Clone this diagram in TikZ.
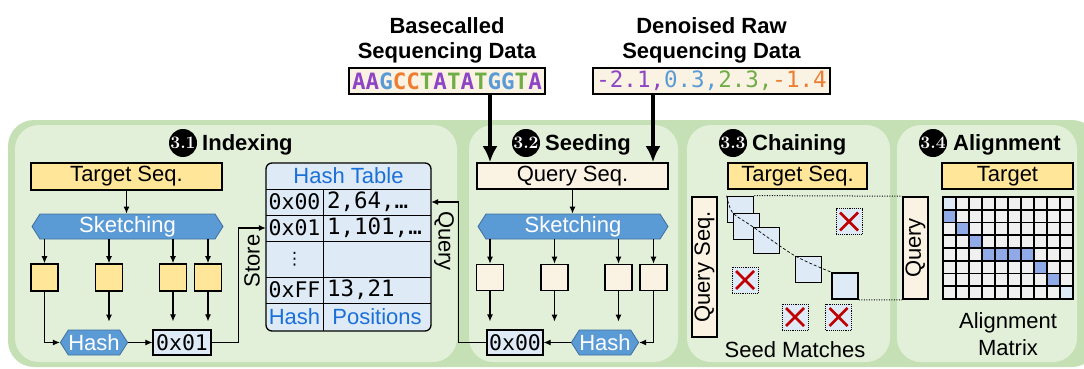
\documentclass[tikz,border=0pt]{standalone}
\usepackage{fontspec}
\setmainfont{Liberation Sans}
\newfontfamily\monofont{DejaVu Sans Mono}
\newfontfamily\numfont{Latin Modern Roman}
\newfontfamily\symfont{DejaVu Sans}
\usetikzlibrary{arrows.meta,shapes.symbols}

\definecolor{frame}{HTML}{C5E0B4}
\definecolor{panelbg}{HTML}{E2F0D9}
\definecolor{ylw}{HTML}{FFE699}
\definecolor{cream}{HTML}{FAF3E3}
\definecolor{lblue}{HTML}{DEEBF7}
\definecolor{hexblue}{HTML}{5B9BD5}
\definecolor{hexedge}{HTML}{3E6E9E}
\definecolor{tblue}{HTML}{1A6FD8}
\definecolor{cellblue}{HTML}{8FAAE6}
\definecolor{cellgray}{HTML}{F0F0F0}
\definecolor{xred}{HTML}{C00000}
\definecolor{bA}{HTML}{8E44C4}
\definecolor{bG}{HTML}{5B9BD5}
\definecolor{bC}{HTML}{ED7D31}
\definecolor{bT}{HTML}{70AD47}

\newcommand{\sansfs}{\fontsize{22}{25}\selectfont}
\newcommand{\monofs}{\monofont\fontsize{22.5}{25}\selectfont}
\newcommand{\keyfs}{\monofont\fontsize{21.5}{25}\selectfont}

\tikzset{
  panel/.style={fill=panelbg, rounded corners=24pt, inner sep=0pt},
  box/.style={draw=black, line width=1.6pt, inner sep=0pt, font=\sansfs},
  ybox/.style={box, fill=ylw},
  cbox/.style={box, fill=cream},
  sqy/.style={ybox, minimum width=27pt, minimum height=27pt},
  sqc/.style={cbox, minimum width=27pt, minimum height=26pt},
  hexa/.style={shape=signal, signal to=west and east, signal pointer angle=115,
    fill=hexblue, draw=hexedge, line width=0.8pt, text=white, inner sep=0pt,
    minimum height=25pt, font=\sansfs},
  hbox/.style={draw=black, fill=lblue, line width=1.2pt, inner sep=0pt,
    minimum height=25pt, font=\keyfs},
  arr/.style={-{Latex[length=7pt,width=6pt]}, line width=1.1pt},
  bigarr/.style={-{Latex[length=16pt,width=15pt]}, line width=3.4pt},
  numc/.style={circle, fill=black, text=white, minimum size=28pt, inner sep=0pt,
    font=\numfont\bfseries\fontsize{17.5}{17.5}\selectfont},
  ttl/.style={font=\bfseries\fontsize{22}{25}\selectfont, inner sep=0pt, anchor=base west},
  lbl/.style={font=\sansfs, inner sep=0pt},
  tline/.style={line width=1.2pt},
  kcell/.style={inner sep=0pt, minimum width=57pt, font=\keyfs},
  vcell/.style={inner sep=0pt, inner xsep=4pt, text width=100pt, align=left, font=\monofs},
  seed/.style={draw=black, fill=lblue, line width=1.8pt, minimum size=26pt, inner sep=0pt},
  miss/.style={draw=black, densely dotted, fill=lblue, line width=0.9pt, minimum size=26pt, inner sep=0pt,
    path picture={\draw[xred, line width=2.8pt, solid]
      ([shift={(4pt,-4pt)}]path picture bounding box.north west) --
      ([shift={(-4pt,4pt)}]path picture bounding box.south east)
      ([shift={(-4pt,-4pt)}]path picture bounding box.north east) --
      ([shift={(4pt,4pt)}]path picture bounding box.south west);}},
  chainln/.style={line width=0.7pt, dash pattern=on 3pt off 2pt},
  guide/.style={line width=1pt, dash pattern=on 1pt off 1.5pt},
  cell/.style={draw=black, line width=1.6pt, fill=cellgray, minimum width=13pt,
    minimum height=12.75pt, inner sep=0pt},
  hl0-0/.style={fill=lblue}, hl7-9/.style={fill=lblue},
  hl1-0/.style={fill=cellblue}, hl2-1/.style={fill=cellblue}, hl3-2/.style={fill=cellblue},
  hl4-3/.style={fill=cellblue}, hl4-4/.style={fill=cellblue}, hl4-5/.style={fill=cellblue},
  hl4-6/.style={fill=cellblue}, hl5-7/.style={fill=cellblue}, hl6-8/.style={fill=cellblue},
}

\begin{document}
\begin{tikzpicture}[x=1pt,y=-1pt]
\useasboundingbox (0,0) rectangle (1084,369);

% ---------- background frame and the four stage panels ----------
\node[fill=frame, rounded corners=26pt, inner sep=0pt, minimum width=1090pt, minimum height=247pt] (frm) at (553,243.5) {};
\node[panel, minimum width=442pt, minimum height=237pt] (p1) at (236,243.5) {};
\node[panel, minimum width=209pt, minimum height=237pt] (p2) at (573.5,243.5) {};
\node[panel, minimum width=203pt, minimum height=237pt] (p3) at (788.5,243.5) {};
\node[panel, minimum width=180pt, minimum height=237pt] (p4) at (987,243.5) {};

% ---------- inputs ----------
\node[font=\bfseries\fontsize{22}{25}\selectfont, align=center, inner sep=0pt] (bt) at (447,40) {Basecalled\\Sequencing Data};
\node[font=\bfseries\fontsize{22}{25}\selectfont, align=center, inner sep=0pt] (dt) at (711.5,40) {Denoised Raw\\Sequencing Data};
\node[cbox, minimum width=196pt, minimum height=26pt, font=\monofont\bfseries\fontsize{22.5}{25}\selectfont] (bs) at (447,81)
  {\textcolor{bA}{AA}\textcolor{bG}{G}\textcolor{bC}{CC}\textcolor{bT}{T}\textcolor{bA}{A}\textcolor{bT}{T}\textcolor{bA}{A}\textcolor{bT}{T}\textcolor{bG}{GG}\textcolor{bT}{T}\textcolor{bA}{A}};
\node[cbox, minimum width=237pt, minimum height=26pt, font=\monofs] (ds) at (711.5,81)
  {\textcolor{bA}{-2.1,}\textcolor{bG}{0.3,}\textcolor{bT}{2.3,}\textcolor{bC}{-1.4}};

% ---------- titles ----------
\node[numc] (n1) at (183,143) {3.1};
\node[ttl] (t1) at (202,150) {Indexing};
\node[numc] (n2) at (526,143) {3.2};
\node[ttl] (t2) at (545,150) {Seeding};
\node[numc] (n3) at (733,143) {3.3};
\node[ttl] (t3) at (752,150) {Chaining};
\node[numc] (n4) at (933,143) {3.4};
\node[ttl] (t4) at (953,150) {Alignment};

% ---------- 3.1 Indexing ----------
\node[ybox, minimum width=191pt, minimum height=27pt] (tg1) at (126.5,176.5) {Target Seq.};
\node[hexa, minimum width=191pt] (sk1) at (127.5,226.5) {Sketching};
\node[sqy] (s11) at (44.5,277.5) {};
\node[sqy] (s12) at (109,277.5) {};
\node[sqy] (s13) at (173,277.5) {};
\node[sqy] (s14) at (208,277.5) {};
\node[hexa, minimum width=64pt] (hs1) at (94,342.5) {Hash};
\node[hbox, minimum width=58pt] (k1) at (182,342.5) {0x01};

\draw[arr] (tg1.south) -- (tg1.south |- sk1.north);
\foreach \s in {s11,s12,s13,s14} \draw[arr] (sk1.south -| \s.north) -- (\s.north);
\draw[arr] (s11.south) |- (hs1.west);
\draw[arr, shorten >=8pt] (s12.south) -- (s12.south |- hs1.north);
\draw[arr, shorten >=8pt] (s13.south) -- (s13.south |- k1.north);
\draw[arr, shorten >=8pt] (s14.south) -- (s14.south |- k1.north);
\draw[arr] (hs1.east) -- (k1.west);

% hash table
\node[draw=black, fill=lblue, rounded corners=6pt, line width=1.3pt, inner sep=0pt,
      minimum width=165pt, minimum height=168pt] (htab) at (348.5,247) {};
\node[inner sep=0pt, minimum width=165pt, minimum height=26pt, font=\sansfs, text=tblue] (hh) at (348.5,176) {Hash Table};
\node[kcell, minimum height=26pt] (hk0) at (294.5,202) {0x00};
\node[vcell, minimum height=26pt] (hv0) at (377,202) {2,64,…};
\node[kcell, minimum height=26pt] (hk1) at (294.5,228) {0x01};
\node[vcell, minimum height=26pt] (hv1) at (377,228) {1,101,…};
\node[kcell, minimum height=36pt, font=\symfont\fontsize{17}{17}\selectfont] (hk2) at (294.5,259) {⋮};
\node[vcell, minimum height=36pt] (hv2) at (377,259) {};
\node[kcell, minimum height=26pt] (hk3) at (294.5,290) {0xFF};
\node[vcell, minimum height=26pt] (hv3) at (377,290) {13,21};
\node[kcell, minimum height=28pt, font=\sansfs, text=tblue] (hk4) at (294.5,317) {Hash};
\node[inner sep=0pt, minimum width=108pt, minimum height=28pt, font=\sansfs, text=tblue] (hv4) at (377,317) {Positions};
\draw[tline] (hh.south west) -- (hh.south east);
\draw[tline] (hk0.south west) -- (hv0.south east);
\draw[tline] (hk1.south west) -- (hv1.south east);
\draw[tline] (hk2.south west) -- (hv2.south east);
\draw[tline] (hk3.south west) -- (hv3.south east);
\draw[tline] (hk0.north east) -- (hk4.south east);

\draw[arr] (k1.east) -- ++(27,0) |- (hk1.west);
\node[lbl, rotate=90] (store) at (252,261) {Store};

% ---------- 3.2 Seeding ----------
\node[cbox, minimum width=191pt, minimum height=26pt] (qs) at (572.5,176) {Query Seq.};
\node[hexa, minimum width=190pt] (sk2) at (573,226.5) {Sketching};
\node[sqc] (s21) at (490,277.5) {};
\node[sqc] (s22) at (554.5,277.5) {};
\node[sqc] (s23) at (618.5,277.5) {};
\node[sqc] (s24) at (653.5,277.5) {};
\node[hbox, minimum width=56pt] (k2) at (515,342.5) {0x00};
\node[hexa, minimum width=64pt] (hs2) at (605,342.5) {Hash};

\draw[bigarr] ([xshift=43pt]bs.south) -- ([xshift=43pt]bs.south |- qs.north);
\draw[bigarr] ([xshift=-58.5pt]ds.south) -- ([xshift=-58.5pt]ds.south |- qs.north);
\draw[arr] (qs.south) -- (qs.south |- sk2.north);
\foreach \s in {s21,s22,s23,s24} \draw[arr] (sk2.south -| \s.north) -- (\s.north);
\draw[arr, shorten >=8pt] (s21.south) -- (s21.south |- k2.north);
\draw[arr, shorten >=8pt] (s22.south) -- (s22.south |- hs2.north);
\draw[arr, shorten >=8pt] (s23.south) -- (s23.south |- hs2.north);
\draw[arr] (s24.south) |- (hs2.east);
\draw[arr] (hs2.west) -- (k2.east);

\draw[arr] (k2.west) -- ++(-28,0) |- (hv0.east);
\node[lbl, rotate=-90] (qry) at (444,241) {Query};

% ---------- 3.3 Chaining ----------
\node[ybox, minimum width=139pt, minimum height=26pt] (tg3) at (797.5,176) {Target Seq.};
\node[cbox, rotate=90, minimum width=140pt, minimum height=25pt] (qv3) at (704.5,267) {Query Seq.};
\node[seed] (m1) at (740.5,209.5) {};
\node[seed] (m2) at (746.5,226.5) {};
\node[seed] (m3) at (766.5,240.5) {};
\node[seed] (m4) at (808.5,269.5) {};
\node[seed] (m5) at (845,286) {};
\draw[chainln] plot[smooth, tension=0.5] coordinates {(m1.north west) (m2.north west) (m3.north west) (m4.north west) (m5.north west)};
\node[miss] (x1) at (849,221.5) {};
\node[miss] (x2) at (745,280) {};
\node[miss] (x3) at (795,317) {};
\node[miss] (x4) at (838.5,317) {};
\node[lbl] (sm) at (795,349.5) {Seed Matches};

% ---------- 3.4 Alignment ----------
\node[ybox, minimum width=131pt, minimum height=26pt] (tg4) at (1007.5,176) {Target};
\node[cbox, rotate=90, minimum width=102pt, minimum height=25pt] (qv4) at (915.5,248) {Query};
\foreach \r in {0,...,7}{
  \foreach \c in {0,...,9}{
    \node[cell, hl\r-\c/.try] (g\r-\c) at ({943+13*(\c+0.5)},{197+12.75*(\r+0.5)}) {};
  }
}
\node[lbl, align=center, font=\fontsize{22}{27}\selectfont] (am) at (1008,334) {Alignment\\Matrix};

% guides from the chain to the alignment matrix (rotated box: north east is its upper left)
\draw[guide] (m1.north east) -- (qv4.north east);
\draw[guide] (m5.south east) -- (qv4.north west);
\end{tikzpicture}
\end{document}
